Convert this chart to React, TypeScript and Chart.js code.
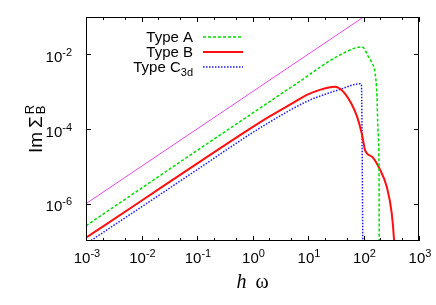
import React, { useEffect, useRef } from "react";
import { Chart, registerables } from "chart.js";

Chart.register(...registerables);

// ---- data ----
const xDecades = [-3, -2, -1, 0, 1, 2, 3];
const yLabelDecades = [-6, -4, -2];
const xMinorMultipliers = [2, 5];

const magentaX = [0.001, 100];
const magentaY = [1e-6, 0.1];

const typeAX = [0.001, 0.01, 0.1, 1, 3, 7.18, 15, 28.2, 50.5, 75, 90, 102, 121, 143, 161, 175, 182, 190, 192, 193];
const typeAY = [2.56e-7, 2.6e-6, 2.65e-5, 2.65e-4, 8.0e-4, 1.9e-3, 4.1e-3, 7.6e-3, 1.2e-2, 1.52e-2, 1.58e-2, 1.45e-2, 9.0e-3, 5.75e-3, 3.29e-3, 7.4e-4, 9.7e-5, 1.26e-5, 1e-7, 3e-8];

const typeBX = [0.001, 0.01, 0.1, 1, 2.07, 5, 10, 16.4, 24.9, 30.6, 37.8, 46, 61.3, 76.4, 94, 106, 116, 148, 198, 262, 322, 355, 370];
const typeBY = [1.22e-7, 1.2e-6, 1.18e-5, 1.12e-4, 2.2e-4, 4.7e-4, 8.5e-4, 1.12e-3, 1.32e-3, 1.36e-3, 1.2e-3, 9.0e-4, 4.6e-4, 2.17e-4, 7.1e-5, 2.8e-5, 2.2e-5, 1.72e-5, 8.2e-6, 2.86e-6, 5.7e-7, 1.08e-7, 3e-8];

const typeCX = [0.001, 0.01, 0.1, 1, 2.07, 4.74, 10.9, 16.4, 37.8, 86.5, 92, 94, 96, 98];
const typeCY = [8.4e-8, 8.2e-7, 8.1e-6, 8.0e-5, 1.55e-4, 3.2e-4, 6.0e-4, 7.6e-4, 1.15e-3, 1.63e-3, 1.48e-3, 1e-4, 1e-6, 1e-8];

const legendNames = ["Type A", "Type B", "Type C"];
const legendSubs = ["", "", "3d"];

const COLORS = {
  magenta: "#e848e8",
  green: "#00dd00",
  red: "#ff1010",
  blue: "#1a1aff",
};

const SANS = '"Liberation Sans", Arial, Helvetica, sans-serif';
const SERIF = '"Liberation Serif", "Times New Roman", serif';

function pts(xs: number[], ys: number[]) {
  return xs.map((x, i) => ({ x, y: ys[i] }));
}

function drawPow(ctx: CanvasRenderingContext2D, x: number, baseY: number, exp: number, align: "center" | "right") {
  const base = "10";
  const e = String(exp);
  ctx.font = `15px ${SANS}`;
  const wb = ctx.measureText(base).width;
  ctx.font = `11px ${SANS}`;
  const we = ctx.measureText(e).width;
  const total = wb + we;
  const start = align === "center" ? x - total / 2 : x - total;
  ctx.textAlign = "left";
  ctx.textBaseline = "alphabetic";
  ctx.font = `15px ${SANS}`;
  ctx.fillText(base, start, baseY);
  ctx.font = `11px ${SANS}`;
  ctx.fillText(e, start + wb, baseY - 6);
}

const decorPlugin = {
  id: "gnuplotDecor",
  afterDatasetsDraw(chart: any) {
    const { ctx, chartArea: a, scales } = chart;
    const xs = scales.x;
    const ys = scales.y;
    ctx.save();
    // border
    ctx.strokeStyle = "#000";
    ctx.lineWidth = 1;
    ctx.setLineDash([]);
    ctx.strokeRect(a.left + 0.5, a.top + 0.5, a.right - a.left - 1, a.bottom - a.top - 1);

    // x ticks
    ctx.beginPath();
    for (const d of xDecades) {
      const major = Math.pow(10, d);
      const px = Math.round(xs.getPixelForValue(major)) + 0.5;
      ctx.moveTo(px, a.bottom);
      ctx.lineTo(px, a.bottom - 5);
      ctx.moveTo(px, a.top);
      ctx.lineTo(px, a.top + 5);
      for (const m of xMinorMultipliers) {
        const v = m * major;
        if (v > xs.max) continue;
        const mx = Math.round(xs.getPixelForValue(v)) + 0.5;
        ctx.moveTo(mx, a.bottom);
        ctx.lineTo(mx, a.bottom - 3);
        ctx.moveTo(mx, a.top);
        ctx.lineTo(mx, a.top + 3);
      }
    }
    // y ticks
    for (const d of yLabelDecades) {
      const py = Math.round(ys.getPixelForValue(Math.pow(10, d))) + 0.5;
      ctx.moveTo(a.left, py);
      ctx.lineTo(a.left + 5, py);
      ctx.moveTo(a.right, py);
      ctx.lineTo(a.right - 5, py);
    }
    ctx.stroke();

    // tick labels
    ctx.fillStyle = "#000";
    for (const d of xDecades) {
      const px = xs.getPixelForValue(Math.pow(10, d));
      drawPow(ctx, px + 1, a.bottom + 22, d, "center");
    }
    for (const d of yLabelDecades) {
      const py = ys.getPixelForValue(Math.pow(10, d));
      drawPow(ctx, a.left - 14, py + 7.5, d, "right");
    }

    // x title: h ω
    const cx = (a.left + a.right) / 2;
    ctx.font = `italic 20px ${SERIF}`;
    const wh = ctx.measureText("h").width;
    ctx.font = `20px ${SERIF}`;
    const ww = ctx.measureText("ω").width;
    const gap = 9;
    const tot = wh + gap + ww;
    const sx = cx - tot / 2;
    ctx.textAlign = "left";
    ctx.textBaseline = "alphabetic";
    ctx.font = `italic 20px ${SERIF}`;
    ctx.fillText("h", sx, 288);
    ctx.font = `20px ${SERIF}`;
    ctx.fillText("ω", sx + wh + gap, 288);

    // y title: Im Σ_B^R (rotated)
    ctx.save();
    const cy = (a.top + a.bottom) / 2;
    ctx.translate(42, cy);
    ctx.rotate(-Math.PI / 2);
    ctx.font = `19px ${SANS}`;
    const wIm = ctx.measureText("Im").width;
    const wS = ctx.measureText("Σ").width;
    ctx.font = `13px ${SANS}`;
    const wB = ctx.measureText("B").width;
    const wR = ctx.measureText("R").width;
    const total = wIm + 4 + wS + 2 + Math.max(wB, wR);
    let tx = -total / 2;
    ctx.font = `19px ${SANS}`;
    ctx.fillText("Im", tx, 0);
    tx += wIm + 4;
    ctx.fillText("Σ", tx, 0);
    tx += wS + 2;
    ctx.font = `13px ${SANS}`;
    ctx.fillText("B", tx, 3);
    ctx.fillText("R", tx, -8);
    ctx.restore();

    // legend
    const legendColors = [COLORS.green, COLORS.red, COLORS.blue];
    const legendDash = [[3, 2], [], [1.5, 1.5]];
    const legendWidth = [1.5, 2, 1.5];
    const rowY = [37, 52, 67];
    const textRight = 193;
    for (let i = 0; i < legendNames.length; i++) {
      const y = rowY[i];
      ctx.textAlign = "left";
      ctx.fillStyle = "#000";
      ctx.font = `15px ${SANS}`;
      const wn = ctx.measureText(legendNames[i]).width;
      let ws = 0;
      if (legendSubs[i]) {
        ctx.font = `11px ${SANS}`;
        ws = ctx.measureText(legendSubs[i]).width;
      }
      const start = textRight - wn - ws;
      ctx.font = `15px ${SANS}`;
      ctx.fillText(legendNames[i], start, y + 5);
      if (legendSubs[i]) {
        ctx.font = `11px ${SANS}`;
        ctx.fillText(legendSubs[i], start + wn, y + 9);
      }
      ctx.beginPath();
      ctx.strokeStyle = legendColors[i];
      ctx.lineWidth = legendWidth[i];
      ctx.setLineDash(legendDash[i]);
      ctx.moveTo(203, y);
      ctx.lineTo(243, y);
      ctx.stroke();
    }
    ctx.restore();
  },
};

export default function App() {
  const ref = useRef<HTMLCanvasElement | null>(null);
  useEffect(() => {
    if (!ref.current) return;
    const common = { pointRadius: 0, fill: false, cubicInterpolationMode: "monotone" as const, clip: 0 };
    const chart = new Chart(ref.current, {
      type: "line",
      data: {
        datasets: [
          { ...common, label: "ref", data: pts(magentaX, magentaY), borderColor: COLORS.magenta, borderWidth: 1 },
          { ...common, label: "Type A", data: pts(typeAX, typeAY), borderColor: COLORS.green, borderWidth: 1.5, borderDash: [3, 2] },
          { ...common, label: "Type B", data: pts(typeBX, typeBY), borderColor: COLORS.red, borderWidth: 2 },
          { ...common, label: "Type C3d", data: pts(typeCX, typeCY), borderColor: COLORS.blue, borderWidth: 1.5, borderDash: [1.5, 1.5] },
        ],
      },
      options: {
        responsive: false,
        animation: false,
        layout: { padding: { left: 86, right: 17, top: 17, bottom: 64 } },
        plugins: { legend: { display: false }, tooltip: { enabled: false } },
        scales: {
          x: { type: "logarithmic", min: 1e-3, max: 1e3, display: false },
          y: { type: "logarithmic", min: 1e-7, max: 1e-1, display: false },
        },
      },
      plugins: [decorPlugin],
    });
    return () => chart.destroy();
  }, []);
  return (
    <div style={{ position: "fixed", left: 0, top: 0, width: 436, height: 305, background: "#fff" }}>
      <canvas ref={ref} width={436} height={305} style={{ display: "block" }} />
    </div>
  );
}
